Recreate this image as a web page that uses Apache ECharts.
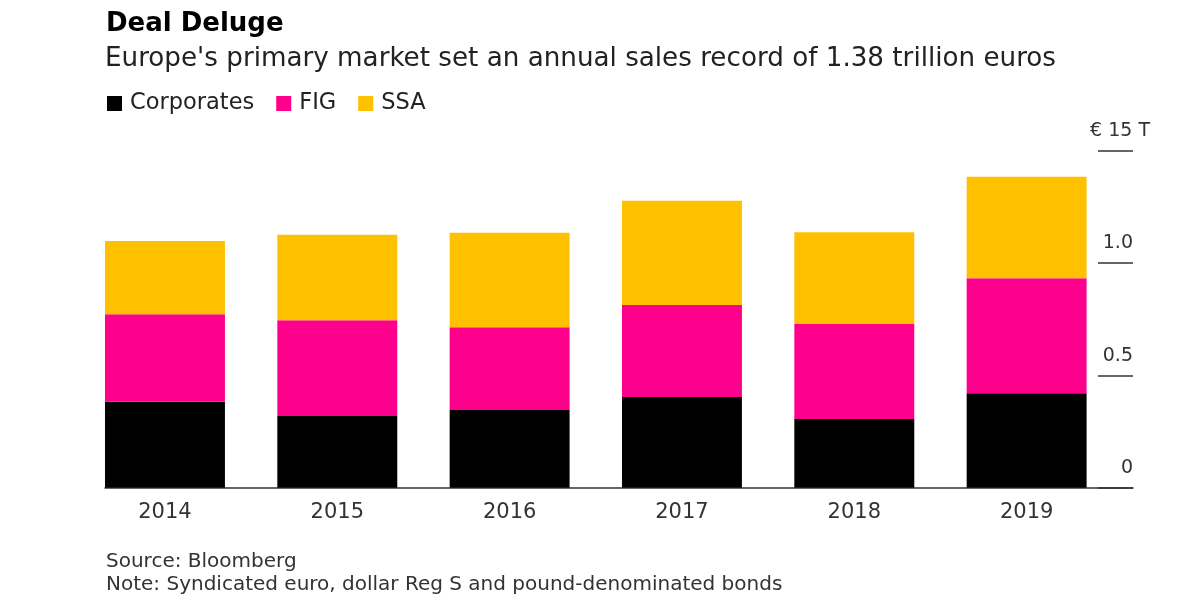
<!DOCTYPE html>
<html>
<head>
<meta charset="utf-8">
<script src="https://cdn.jsdelivr.net/npm/echarts@6/dist/echarts.min.js"></script>
<style>
html,body{margin:0;padding:0;background:#fff;}
#c{width:1200px;height:600px;}
</style>
</head>
<body>
<div id="c"></div>
<script>
const years = ['2014','2015','2016','2017','2018','2019'];
const corporates = [0.383, 0.319, 0.346, 0.404, 0.306, 0.420];
const fig        = [0.389, 0.426, 0.368, 0.409, 0.423, 0.512];
const ssa        = [0.326, 0.381, 0.421, 0.464, 0.408, 0.452];
const yTickLabels = {0:'0', 0.5:'0.5', 1:'1.0', 1.5:'€ 15 T'};

const FONT = '"DejaVu Sans", "Liberation Sans", Arial, sans-serif';
const chart = echarts.init(document.getElementById('c'), null, {renderer:'canvas'});

const gridTop = 150.7, gridBottom = 600 - 487.7;

const option = {
  backgroundColor: '#fff',
  animation: false,
  textStyle: {fontFamily: FONT},
  title: [
    {text: 'Deal Deluge', left: 101, top: 6,
     textStyle: {fontFamily: FONT, fontSize: 26, fontWeight: 'bold', color: '#000'}},
    {text: "Europe's primary market set an annual sales record of 1.38 trillion euros", left: 100, top: 41,
     textStyle: {fontFamily: FONT, fontSize: 26.2, fontWeight: 'normal', color: '#222'}},
    {text: 'Source: Bloomberg\nNote: Syndicated euro, dollar Reg S and pound-denominated bonds', left: 101, top: 545,
     textStyle: {fontFamily: FONT, fontSize: 20, fontWeight: 'normal', color: '#333', lineHeight: 23}}
  ],
  legend: {
    left: 102, top: 87, icon: 'rect', itemWidth: 15, itemHeight: 15, itemGap: 22,
    textStyle: {fontFamily: FONT, fontSize: 22.5, color: '#222', padding: [0,0,0,3]},
    data: ['Corporates','FIG','SSA']
  },
  grid: [
    {left: 78.8, right: 1200 - 1112.8, top: gridTop, bottom: gridBottom},
    {left: 105, right: 1200 - 1133, top: gridTop, bottom: gridBottom},
    {left: 1098, right: 1200 - 1133, top: gridTop, bottom: gridBottom}
  ],
  xAxis: [
    {type: 'category', gridIndex: 0, data: years,
     axisLine: {show: false}, axisTick: {show: false},
     axisLabel: {fontFamily: FONT, fontSize: 21, color: '#333', margin: 14}},
    {type: 'value', gridIndex: 1, min: 0, max: 1,
     axisLine: {show: true, lineStyle: {color: '#333', width: 1.5}},
     axisTick: {show: false}, axisLabel: {show: false}, splitLine: {show: false}},
    {type: 'value', gridIndex: 2, min: 0, max: 1, show: false}
  ],
  yAxis: [
    {type: 'value', gridIndex: 0, min: 0, max: 1.5, interval: 0.5, show: false},
    {type: 'value', gridIndex: 1, min: 0, max: 1.5, interval: 0.5, show: false},
    {type: 'value', gridIndex: 2, min: 0, max: 1.5, interval: 0.5, position: 'right',
     axisLine: {show: false}, axisTick: {show: false},
     splitLine: {show: true, lineStyle: {color: '#333', width: 1.5}},
     axisLabel: {inside: true, margin: -17, align: 'right', verticalAlign: 'bottom',
                 padding: [0,0,10,0], fontFamily: FONT, fontSize: 19, color: '#333',
                 formatter: v => {
                   const t = yTickLabels[v];
                   if (t === undefined) return '';
                   return v === 1.5 ? t : t + '{sp|}';
                 },
                 rich: {sp: {width: 17}}}}
  ],
  series: [
    {name: 'Corporates', type: 'bar', stack: 'a', xAxisIndex: 0, yAxisIndex: 0,
     data: corporates, barCategoryGap: '30.4%', itemStyle: {color: '#000000'}},
    {name: 'FIG', type: 'bar', stack: 'a', xAxisIndex: 0, yAxisIndex: 0,
     data: fig, itemStyle: {color: '#ff008c'}},
    {name: 'SSA', type: 'bar', stack: 'a', xAxisIndex: 0, yAxisIndex: 0,
     data: ssa, itemStyle: {color: '#ffc000'}},
    {name: '_axis', type: 'line', xAxisIndex: 1, yAxisIndex: 1, data: [], silent: true},
    {name: '_ticks', type: 'line', xAxisIndex: 2, yAxisIndex: 2, data: [], silent: true}
  ]
};
chart.setOption(option);
</script>
</body>
</html>
